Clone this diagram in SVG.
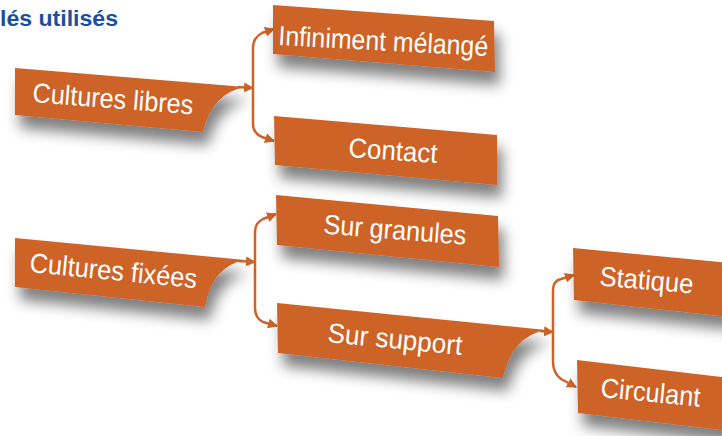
<svg xmlns="http://www.w3.org/2000/svg" width="722" height="436" viewBox="0 0 722 436">
<defs>
<filter id="sh" x="-20%" y="-50%" width="140%" height="230%">
<feGaussianBlur in="SourceAlpha" stdDeviation="7"/>
<feOffset dx="5" dy="13" result="b"/>
<feFlood flood-color="#000" flood-opacity="0.5"/>
<feComposite in2="b" operator="in"/>
<feMerge><feMergeNode/><feMergeNode in="SourceGraphic"/></feMerge>
</filter>
<marker id="ah" viewBox="0 0 10 10" refX="9" refY="5" markerUnits="userSpaceOnUse" markerWidth="10" markerHeight="11" orient="auto">
<path d="M0,0 L10,5 L0,10 z" fill="#CD6328"/>
</marker>
</defs>
<style>
.box{fill:#CD6328;filter:url(#sh)}
.lbl{fill:#fff;font-family:"Liberation Sans",Arial,sans-serif;font-size:27.5px}
.con{fill:none;stroke:#CD6328;stroke-width:2.5;marker-end:url(#ah)}
.title{fill:#1a4f9e;font-family:"Liberation Sans",Arial,sans-serif;font-size:22.5px;font-weight:bold}
</style>
<rect width="722" height="436" fill="#fff"/>
<text class="title" x="0" y="26" textLength="118" lengthAdjust="spacingAndGlyphs">lés utilisés</text>

<g id="connectors">
<path class="con" d="M238,87 L253,88"/>
<path class="con" d="M253,88 L253,48 Q253,38 262,33 L274,29"/>
<path class="con" d="M253,88 L253,124 Q253,133 262,137 L274,141"/>
<path class="con" d="M238,261 L255,262"/>
<path class="con" d="M255,262 L255,232 Q255,223 263,219 L276,214"/>
<path class="con" d="M255,262 L255,308 Q255,318 263,322 L277,326"/>
<path class="con" d="M540,331 L553,332"/>
<path class="con" d="M553,332 L553,290 Q553,281 561,279 L574,275"/>
<path class="con" d="M553,332 L553,362 Q553,373 561,379 L576,387"/>
</g>

<g id="cultures-libres">
<path class="box" d="M15,68 L245,87 Q212,93 203,132 L15,115 Z"/>
<text class="lbl" transform="translate(32,102) rotate(4.4)" textLength="161" lengthAdjust="spacingAndGlyphs">Cultures libres</text>
</g>
<g id="infiniment-melange">
<path class="box" d="M273,5 L494,21 L495,72 L273,54 Z"/>
<text class="lbl" transform="translate(278,45) rotate(3)" textLength="210" lengthAdjust="spacingAndGlyphs">Infiniment mélangé</text>
</g>
<g id="contact">
<path class="box" d="M274,116 L497,135 L497,185 L275,165 Z"/>
<text class="lbl" transform="translate(348,157) rotate(3.9)" textLength="89" lengthAdjust="spacingAndGlyphs">Contact</text>
</g>
<g id="cultures-fixees">
<path class="box" d="M15,238 L245,260 Q212,266 205,307 L15,287 Z"/>
<text class="lbl" transform="translate(29,272) rotate(5.5)" textLength="168" lengthAdjust="spacingAndGlyphs">Cultures fixées</text>
</g>
<g id="sur-granules">
<path class="box" d="M276,195 L498,216 L499,267 L277,245 Z"/>
<text class="lbl" transform="translate(323,233.5) rotate(4.5)" textLength="143" lengthAdjust="spacingAndGlyphs">Sur granules</text>
</g>
<g id="sur-support">
<path class="box" d="M277,303 L546,330 Q512,336 503,378 L278,353 Z"/>
<text class="lbl" transform="translate(327,342) rotate(5.5)" textLength="135" lengthAdjust="spacingAndGlyphs">Sur support</text>
</g>
<g id="statique">
<path class="box" d="M573,248 L730,263 L730,317 L574,300 Z"/>
<text class="lbl" transform="translate(599,285.5) rotate(4.9)" textLength="94" lengthAdjust="spacingAndGlyphs">Statique</text>
</g>
<g id="circulant">
<path class="box" d="M577,360 L730,378 L730,431 L578,413 Z"/>
<text class="lbl" transform="translate(600,397) rotate(5.5)" textLength="100" lengthAdjust="spacingAndGlyphs">Circulant</text>
</g>
</svg>
